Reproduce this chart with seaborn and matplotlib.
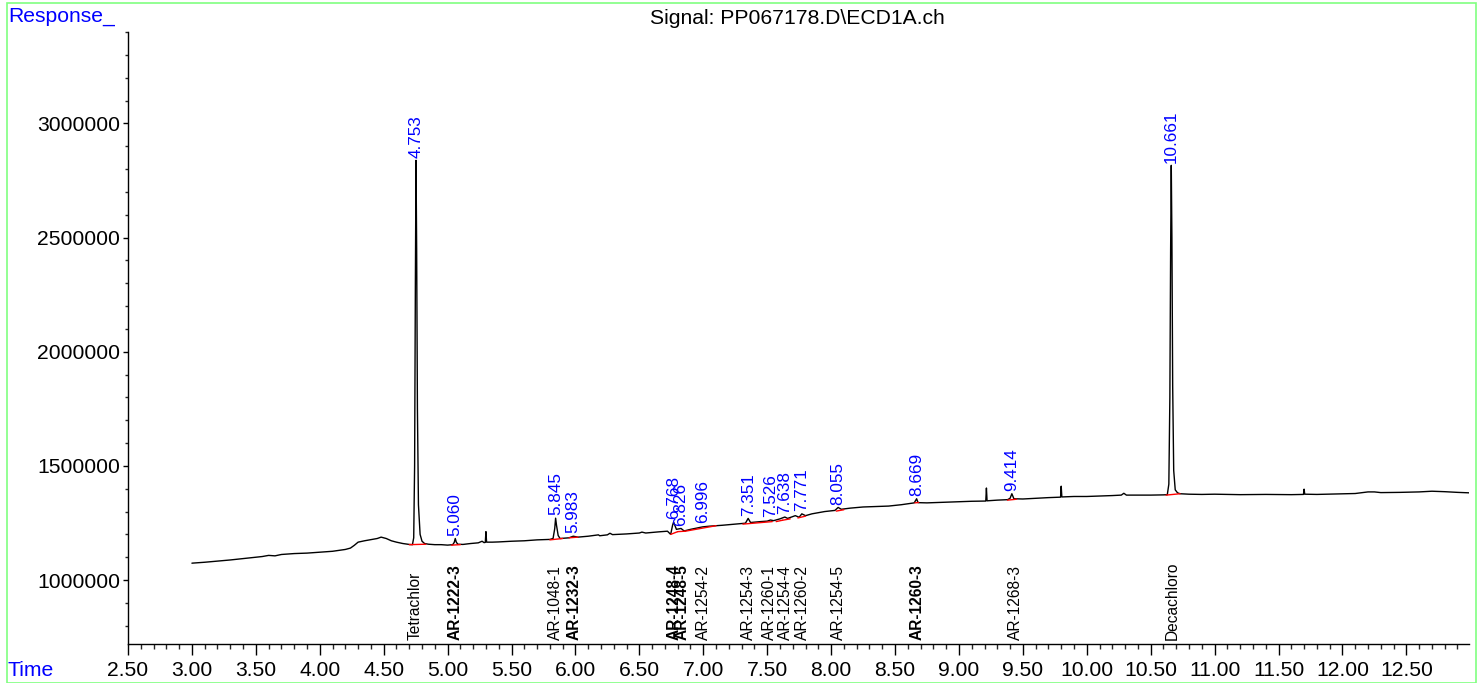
import numpy as np
import pandas as pd
import matplotlib
matplotlib.use("Agg")
import matplotlib.pyplot as plt
import matplotlib.patches as mpatches
from matplotlib.ticker import MultipleLocator, FormatStrFormatter
import seaborn as sns

# ---------------- data ----------------
trace_time = [3.00, 3.10, 3.20, 3.30, 3.40, 3.50, 3.55, 3.60, 3.65, 3.70, 3.80, 3.90, 4.00, 4.10,
              4.20, 4.24, 4.27, 4.30, 4.35, 4.40, 4.45, 4.48, 4.52, 4.56, 4.60, 4.65, 4.70, 4.725,
              4.735, 4.742, 4.748, 4.753, 4.758, 4.764, 4.772, 4.785, 4.80, 4.82, 4.85, 4.90,
              4.95, 5.00, 5.04, 5.052, 5.060, 5.068, 5.08, 5.12, 5.18, 5.24, 5.27, 5.285, 5.295,
              5.30, 5.305, 5.35, 5.40, 5.50, 5.60, 5.70, 5.80, 5.825, 5.838, 5.845, 5.852, 5.865,
              5.88, 5.95, 5.983, 6.02, 6.10, 6.18, 6.19, 6.25, 6.27, 6.29, 6.40, 6.50, 6.52, 6.55,
              6.65, 6.72, 6.745, 6.760, 6.768, 6.79, 6.826, 6.85, 6.90, 6.996, 7.05, 7.15, 7.25,
              7.33, 7.351, 7.37, 7.45, 7.50, 7.526, 7.55, 7.60, 7.638, 7.66, 7.72, 7.75, 7.771,
              7.80, 7.85, 7.95, 8.03, 8.055, 8.08, 8.15, 8.25, 8.35, 8.45, 8.55, 8.65, 8.669,
              8.68, 8.75, 8.85, 9.00, 9.10, 9.21, 9.215, 9.22, 9.30, 9.38, 9.40, 9.414, 9.43,
              9.50, 9.60, 9.70, 9.795, 9.80, 9.805, 9.90, 10.00, 10.10, 10.20, 10.27, 10.29,
              10.31, 10.40, 10.50, 10.60, 10.630, 10.642, 10.650, 10.656, 10.661, 10.666,
              10.672, 10.680, 10.692, 10.71, 10.73, 10.80, 10.90, 11.00, 11.20, 11.40, 11.60,
              11.695, 11.70, 11.705, 11.80, 11.95, 12.10, 12.20, 12.25, 12.30, 12.45, 12.60,
              12.70, 12.80, 12.90, 12.99]
trace_resp = [1074000, 1078000, 1083000, 1088000, 1094000, 1100000, 1103000, 1108000, 1106000,
              1112000, 1116000, 1118000, 1122000, 1126000, 1134000, 1140000, 1152000, 1166000,
              1172000, 1177000, 1182000, 1188000, 1182000, 1172000, 1166000, 1160000, 1156000,
              1155000, 1185000, 1500000, 2300000, 2838000, 2450000, 1750000, 1330000, 1200000,
              1170000, 1160000, 1157000, 1155000, 1155000, 1153000, 1155000, 1165000, 1182000,
              1166000, 1157000, 1156000, 1160000, 1163000, 1170000, 1164000, 1165000, 1212000,
              1166000, 1166000, 1167000, 1170000, 1172000, 1176000, 1178000, 1182000, 1225000,
              1271000, 1240000, 1195000, 1182000, 1185000, 1192000, 1188000, 1192000, 1198000,
              1194000, 1198000, 1205000, 1199000, 1202000, 1206000, 1210000, 1206000, 1211000,
              1214000, 1200000, 1240000, 1254000, 1222000, 1226000, 1215000, 1222000, 1233000,
              1236000, 1240000, 1245000, 1249000, 1270000, 1252000, 1256000, 1258000, 1263000,
              1260000, 1268000, 1276000, 1270000, 1282000, 1275000, 1290000, 1282000, 1290000,
              1300000, 1305000, 1318000, 1310000, 1315000, 1320000, 1322000, 1324000, 1330000,
              1338000, 1356000, 1339000, 1338000, 1340000, 1343000, 1345000, 1346000, 1403000,
              1347000, 1350000, 1352000, 1358000, 1378000, 1356000, 1355000, 1358000, 1361000,
              1363000, 1411000, 1364000, 1366000, 1366000, 1368000, 1370000, 1372000, 1380000,
              1372000, 1372000, 1372000, 1373000, 1374000, 1420000, 1800000, 2450000, 2816000,
              2500000, 1850000, 1480000, 1395000, 1382000, 1378000, 1376000, 1375000, 1376000,
              1374000, 1375000, 1374000, 1375000, 1398000, 1376000, 1375000, 1377000, 1379000,
              1386000, 1386000, 1383000, 1384000, 1386000, 1389000, 1387000, 1384000, 1382000]

# integrated peaks: retention time label and apex response
peak_rt = ["4.753", "5.060", "5.845", "5.983", "6.768", "6.826", "6.996", "7.351", "7.526",
           "7.638", "7.771", "8.055", "8.669", "9.414", "10.661"]
peak_apex = [2838000, 1182000, 1271000, 1192000, 1254000, 1226000, 1236000, 1270000, 1263000,
             1276000, 1290000, 1318000, 1356000, 1378000, 2816000]

# integration baselines (red): start/end time and response
base_t0 = [4.70, 5.03, 5.80, 5.95, 6.745, 6.80, 6.86, 7.31, 7.57, 7.62, 7.74, 8.04, 8.655, 9.38, 10.62]
base_t1 = [4.83, 5.10, 5.90, 6.02, 6.80, 6.86, 7.10, 7.54, 7.62, 7.68, 7.80, 8.10, 8.685, 9.45, 10.73]
base_r0 = [1155000, 1153000, 1176000, 1185000, 1200000, 1212000, 1214000, 1245000, 1256000,
           1262000, 1272000, 1302000, 1338000, 1350000, 1372000]
base_r1 = [1157000, 1155000, 1182000, 1188000, 1212000, 1214000, 1238000, 1256000, 1262000,
           1268000, 1280000, 1308000, 1340000, 1354000, 1378000]

# compound names shown at the bottom
cmp_time = [4.748, 5.06, 5.845, 5.99, 6.775, 6.835, 7.00, 7.35, 7.52, 7.64, 7.775, 8.06, 8.67,
            9.44, 10.665]
cmp_name = ["Tetrachlor", "AR-1222-3", "AR-1048-1", "AR-1232-3", "AR-1248-4", "AR-1248-5",
            "AR-1254-2", "AR-1254-3", "AR-1260-1", "AR-1254-4", "AR-1260-2", "AR-1254-5",
            "AR-1260-3", "AR-1268-3", "Decachloro"]
cmp_bold = [False, True, False, True, True, True, False, False, False, False, False, False,
            True, False, False]

title_text = "Signal: PP067178.D\\ECD1A.ch"

# ---------------- figure ----------------
sns.set_style("white")
plt.rcParams["font.family"] = ["Liberation Sans", "DejaVu Sans"]

W, H = 1482, 683
fig = plt.figure(figsize=(W / 100, H / 100), dpi=100)
ax = fig.add_axes([128 / W, 1 - 644 / H, (1469 - 128) / W, (644 - 32) / H])

df = pd.DataFrame({"time": trace_time, "resp": trace_resp})
sns.lineplot(data=df, x="time", y="resp", ax=ax, color="black", lw=1.0,
             estimator=None, sort=False)

bl_rows = []
for i in range(len(base_t0)):
    bl_rows.append({"seg": i, "time": base_t0[i], "resp": base_r0[i]})
    bl_rows.append({"seg": i, "time": base_t1[i], "resp": base_r1[i]})
bl = pd.DataFrame(bl_rows)
sns.lineplot(data=bl, x="time", y="resp", units="seg", ax=ax, color="red", lw=1.0,
             estimator=None, sort=False)

ax.set_xlim(2.5, 12.99)
ax.set_ylim(720000, 3400000)

for rt, ap in zip(peak_rt, peak_apex):
    ax.annotate(rt, xy=(float(rt), ap), xytext=(0, 2), textcoords="offset points",
                rotation=90, ha="center", va="bottom", color="#0000ff", fontsize=12.3)

for t, name, b in zip(cmp_time, cmp_name, cmp_bold):
    ax.annotate(name, xy=(t, 0), xycoords=ax.get_xaxis_transform(), xytext=(0, 3),
                textcoords="offset points", rotation=90, ha="center", va="bottom",
                color="black", fontsize=11.2, fontweight="bold" if b else "normal")

ax.xaxis.set_major_locator(MultipleLocator(0.5))
ax.xaxis.set_minor_locator(MultipleLocator(0.1))
ax.xaxis.set_major_formatter(FormatStrFormatter("%.2f"))
ax.yaxis.set_minor_locator(MultipleLocator(100000))
ax.set_yticks([1000000, 1500000, 2000000, 2500000, 3000000])
ax.yaxis.set_major_formatter(FormatStrFormatter("%d"))

ax.tick_params(axis="x", which="major", direction="out", length=8, width=1, labelsize=15.2,
               pad=4, colors="black")
ax.tick_params(axis="x", which="minor", direction="out", length=3.5, width=1)
ax.tick_params(axis="y", which="major", direction="out", length=3.5, width=1, labelsize=15.2,
               pad=2, colors="black")
ax.tick_params(axis="y", which="minor", direction="out", length=2, width=1)
ax.tick_params(bottom=True, left=True, which="both")

for s in ["top", "right"]:
    ax.spines[s].set_visible(False)
for s in ["left", "bottom"]:
    ax.spines[s].set_color("black")
    ax.spines[s].set_linewidth(1)
ax.set_xlabel("")
ax.set_ylabel("")
ax.set_facecolor("white")

fig.text(797 / W, 1 - 18 / H, title_text, ha="center", va="center", fontsize=15.2, color="black")
fig.text(8 / W, 1 - 17 / H, "Response_", ha="left", va="center", fontsize=15.2, color="#0000ff")
fig.text(8 / W, 1 - 671 / H, "Time", ha="left", va="center", fontsize=15.2, color="#0000ff")

border = mpatches.Rectangle((7 / W, 0), (1476 - 7) / W, 1 - 3 / H, transform=fig.transFigure,
                            fill=False, edgecolor="#80ff80", lw=1.2)
fig.patches.append(border)

fig.savefig("out.png", dpi=100)
